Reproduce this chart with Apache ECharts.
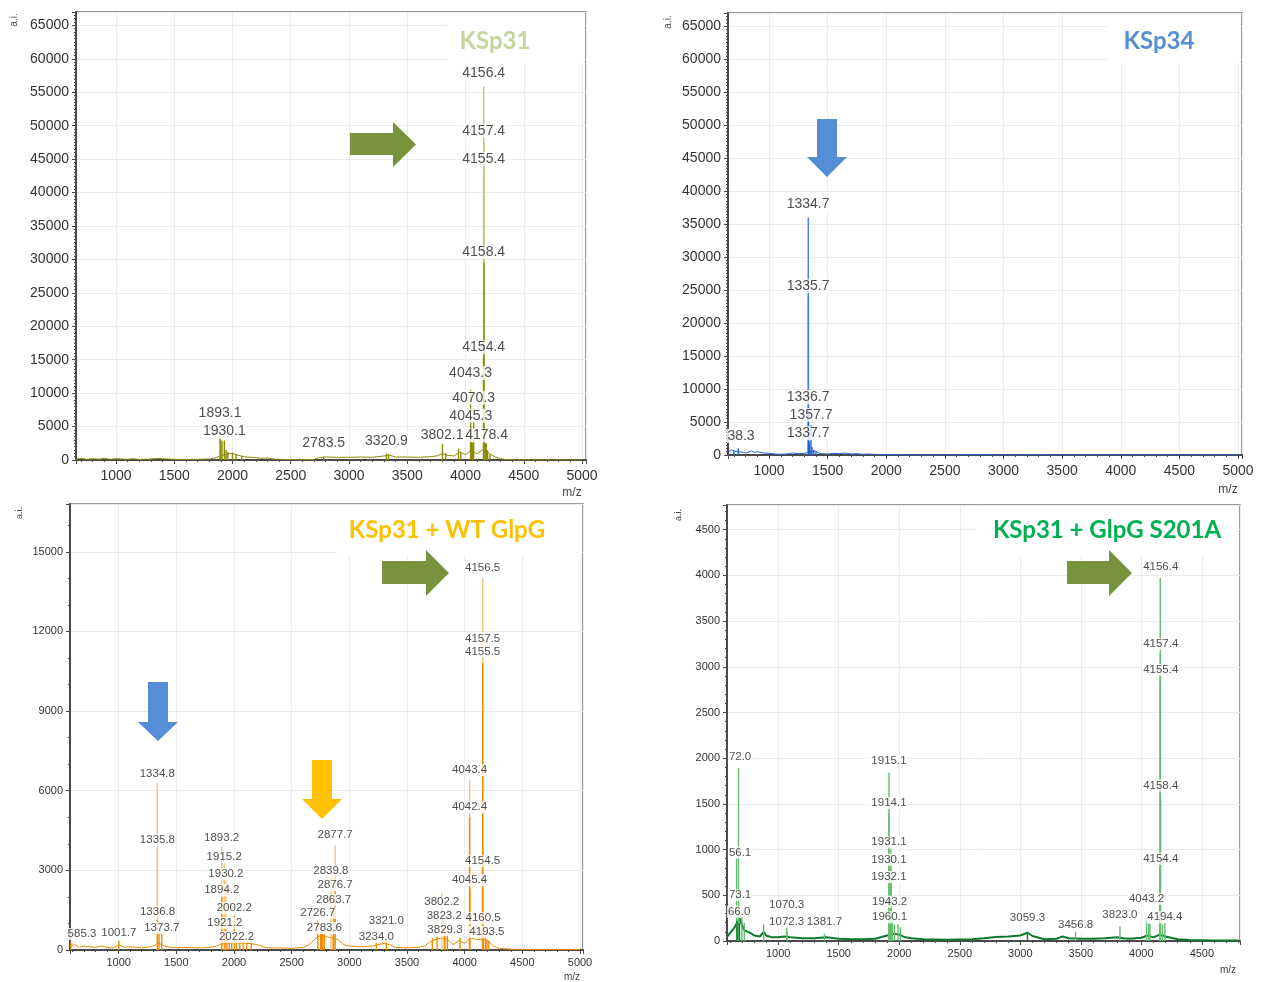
<!DOCTYPE html>
<html>
<head>
<meta charset="utf-8">
<title>MALDI-TOF spectra</title>
<script src="https://cdn.jsdelivr.net/npm/echarts@6/dist/echarts.min.js"></script>
<style>
  html, body { margin: 0; padding: 0; background: #fff; }
  #chart { width: 1267px; height: 982px; }
</style>
</head>
<body>
<div id="chart"></div>
<script>
// ---------- panel 1 : KSp31 ----------
const p1ThinMz  = [4156.4, 4157.4, 4155.4];
const p1ThinInt = [55900, 47500, 43300];
const p1PeakMz  = [1893.1, 1900, 1910, 1930.1, 1945, 1960, 2000, 2030, 2080, 2783.5, 3320.9, 3340, 3802.1, 3830, 3940, 3960, 4043.3, 4045.3, 4050, 4060, 4070.3, 4154.4, 4158.4, 4170, 4178.4, 4190, 4210];
const p1PeakInt = [3200, 3000, 2800, 2900, 1500, 1200, 1100, 900, 600, 500, 1000, 900, 2400, 1000, 1700, 1200, 10500, 5000, 2700, 2600, 7700, 15300, 29500, 2500, 2500, 1500, 800];
const p1BaseMz  = [660, 700, 750, 800, 850, 900, 950, 1000, 1050, 1100, 1150, 1200, 1300, 1350, 1400, 1450, 1500, 1600, 1700, 1800, 1850, 1890, 1950, 2000, 2050, 2100, 2150, 2200, 2250, 2300, 2350, 2400, 2500, 2600, 2700, 2750, 2800, 2900, 3000, 3100, 3200, 3300, 3350, 3400, 3500, 3600, 3700, 3750, 3800, 3850, 3900, 3950, 4000, 4050, 4100, 4150, 4200, 4250, 4300, 4350, 4500, 4700, 5000];
const p1BaseInt = [150, 250, 100, 200, 120, 250, 100, 200, 150, 100, 200, 80, 150, 250, 200, 150, 100, 80, 100, 150, 300, 600, 900, 1000, 700, 500, 400, 350, 250, 300, 150, 100, 50, 50, 80, 400, 450, 400, 400, 450, 400, 600, 700, 450, 450, 400, 500, 600, 900, 700, 600, 1200, 800, 1500, 900, 1600, 1000, 500, 200, 50, 30, 20, 20];
const p1LabelText = ['4156.4', '4157.4', '4155.4', '4158.4', '4154.4', '4043.3', '4070.3', '4045.3', '3802.1', '4178.4', '3320.9', '2783.5', '1893.1', '1930.1'];
const p1LabelMz   = [4156, 4156, 4156, 4156, 4156, 4043, 4070, 4045, 3799, 4181, 3321, 2783, 1893, 1930];
const p1LabelAt   = [57850, 49200, 45000, 31100, 16900, 13000, 9300, 6600, 3700, 3700, 2800, 2500, 7000, 4300];

// ---------- panel 2 : KSp34 ----------
const p2ThinMz  = [1334.7, 1335.7];
const p2ThinInt = [36000, 24000];
const p2PeakMz  = [700, 738.3, 1336.7, 1337.7, 1340, 1345, 1357.7, 1365, 1380, 1400];
const p2PeakInt = [700, 1000, 7300, 2000, 2200, 1500, 4500, 1200, 800, 500];
const p2BaseMz  = [650, 680, 700, 740, 780, 800, 850, 880, 900, 950, 1000, 1050, 1100, 1150, 1200, 1250, 1300, 1330, 1400, 1420, 1450, 1500, 1550, 1600, 1650, 1700, 1750, 1800, 1850, 1900, 2000, 2200, 2500, 2800, 3000, 3300, 3500, 4000, 4500, 5000];
const p2BaseInt = [500, 800, 600, 500, 400, 300, 600, 400, 500, 300, 250, 150, 100, 150, 300, 200, 250, 400, 600, 300, 200, 150, 250, 200, 300, 150, 200, 100, 150, 80, 50, 40, 30, 60, 30, 50, 30, 20, 20, 20];
const p2LabelText = ['1334.7', '1335.7', '1336.7', '1357.7', '1337.7', '38.3'];
const p2LabelMz   = [1333, 1333, 1333, 1358, 1333, 761];
const p2LabelAt   = [38000, 25600, 8800, 6100, 3300, 2900];

// ---------- panel 3 : KSp31 + WT GlpG ----------
const p3ThinMz  = [4156.5, 4157.5, 4043.4, 1334.8, 1335.8, 2877.7, 2839.8, 1893.2, 1915.2, 1930.2, 3802.2];
const p3ThinInt = [14000, 11300, 6400, 6290, 3800, 3950, 2700, 3900, 3300, 2600, 2150];
const p3PeakMz  = [4155.5, 4042.4, 4154.5, 4045.4, 4160.5, 4193.5, 4180, 4210, 3823.2, 3829.3, 3720, 3760, 3850, 3960, 3321.0, 3234.0, 2876.7, 2863.7, 2726.7, 2783.6, 2750, 2760, 2770, 2860, 1894.2, 2002.2, 1921.2, 2022.2, 1940, 1960, 1980, 2050, 2080, 2110, 2150, 1336.8, 1373.7, 1350, 1001.7, 585.3];
const p3PeakInt = [10800, 5000, 3000, 2300, 800, 400, 500, 350, 800, 600, 450, 500, 550, 450, 400, 300, 2200, 1600, 1100, 600, 600, 650, 600, 550, 2000, 1300, 800, 350, 300, 320, 300, 300, 320, 300, 250, 1100, 600, 650, 350, 300];
const p3BaseMz  = [580, 620, 660, 700, 750, 800, 850, 900, 950, 1000, 1050, 1100, 1150, 1200, 1250, 1300, 1350, 1400, 1450, 1500, 1550, 1600, 1700, 1800, 1850, 1900, 1950, 2000, 2050, 2100, 2150, 2200, 2250, 2300, 2400, 2500, 2600, 2650, 2700, 2750, 2800, 2850, 2900, 2950, 3000, 3100, 3200, 3300, 3350, 3400, 3500, 3600, 3650, 3700, 3750, 3800, 3850, 3900, 3950, 4000, 4050, 4100, 4150, 4200, 4250, 4300, 4400, 4600, 5000];
const p3BaseInt = [150, 200, 100, 150, 120, 100, 150, 100, 80, 200, 100, 120, 100, 80, 100, 150, 250, 150, 100, 80, 100, 90, 80, 100, 150, 250, 250, 280, 260, 250, 240, 200, 120, 80, 80, 60, 100, 200, 400, 550, 500, 450, 400, 200, 150, 120, 150, 250, 200, 100, 80, 100, 150, 300, 400, 450, 400, 200, 350, 250, 450, 400, 400, 350, 150, 60, 30, 20, 20];
const p3LabelText = ['4156.5', '4157.5', '4155.5', '4043.4', '4042.4', '4154.5', '4045.4', '4160.5', '4193.5', '3802.2', '3823.2', '3829.3', '3321.0', '3234.0', '2877.7', '2839.8', '2876.7', '2863.7', '2726.7', '2783.6', '1893.2', '1915.2', '1930.2', '1894.2', '2002.2', '1921.2', '2022.2', '1334.8', '1335.8', '1336.8', '1373.7', '1001.7', '585.3'];
const p3LabelMz   = [4156, 4156, 4156, 4043, 4043, 4156, 4043, 4160, 4193, 3802, 3823, 3829, 3321, 3234, 2877, 2840, 2877, 2864, 2727, 2784, 1893, 1915, 1930, 1894, 2002, 1921, 2022, 1335, 1336, 1337, 1374, 1002, 682];
const p3LabelAt   = [14380, 11740, 11250, 6770, 5380, 3350, 2630, 1200, 680, 1800, 1300, 750, 1090, 490, 4330, 2970, 2450, 1880, 1390, 830, 4220, 3500, 2860, 2260, 1580, 1020, 490, 6620, 4140, 1430, 830, 640, 600];

// ---------- panel 4 : KSp31 + GlpG S201A ----------
const p4ThinMz  = [4156.4, 4157.4, 4155.4, 4158.4, 4154.4, 1915.1, 1914.1, 1931.1, 1930.1, 1932.1, 672.0, 656.1, 673.1, 666.0, 1943.2, 1960.1, 4043.2, 4060, 4070, 4194.4, 4175, 3823.0, 1070.3, 1072.3, 1381.7, 880, 3456.8, 1920, 1990, 2010, 700, 720];
const p4ThinInt = [3970, 3150, 2850, 1570, 800, 1840, 1400, 1000, 800, 620, 1890, 900, 420, 230, 300, 180, 250, 190, 190, 200, 180, 160, 150, 100, 80, 180, 100, 180, 180, 150, 300, 200];
const p4PeakMz  = [660, 680, 3059.3];
const p4PeakInt = [220, 200, 90];
const p4BaseMz  = [580, 640, 660, 680, 700, 720, 750, 780, 800, 850, 880, 900, 950, 1000, 1050, 1100, 1200, 1300, 1400, 1500, 1600, 1700, 1800, 1900, 1950, 2000, 2050, 2100, 2200, 2400, 2600, 2700, 2800, 2900, 3000, 3060, 3100, 3200, 3300, 3350, 3400, 3500, 3600, 3700, 3800, 3850, 3900, 4000, 4050, 4100, 4150, 4200, 4300, 4400, 4600, 4800];
const p4BaseInt = [50, 150, 200, 250, 180, 120, 100, 80, 60, 50, 100, 60, 40, 40, 50, 40, 30, 30, 40, 25, 20, 20, 25, 60, 80, 70, 40, 30, 20, 15, 20, 30, 45, 50, 60, 90, 55, 20, 25, 50, 30, 25, 25, 30, 40, 30, 25, 35, 60, 40, 70, 50, 20, 10, 5, 5];
const p4LabelText = ['4156.4', '4157.4', '4155.4', '4158.4', '4154.4', '4043.2', '4194.4', '3823.0', '3456.8', '3059.3', '1915.1', '1914.1', '1931.1', '1930.1', '1932.1', '1943.2', '1960.1', '1070.3', '1072.3', '1381.7', '72.0', '56.1', '73.1', '66.0'];
const p4LabelMz   = [4160, 4160, 4160, 4160, 4160, 4043, 4194, 3823, 3457, 3059, 1915, 1915, 1915, 1915, 1915, 1920, 1920, 1070, 1070, 1382, 685, 685, 685, 677];
const p4LabelAt   = [4092, 3250, 2965, 1700, 900, 460, 260, 285, 175, 250, 1970, 1510, 1080, 890, 700, 430, 260, 400, 210, 210, 2010, 970, 500, 320];

const FONT = 'Liberation Sans, Arial, sans-serif';

function zip(a, b) { return a.map((v, i) => [v, b[i]]); }

const panels = [
  { thinMz: p1ThinMz, thinInt: p1ThinInt, peakMz: p1PeakMz, peakInt: p1PeakInt, baseMz: p1BaseMz, baseInt: p1BaseInt,
    labelText: p1LabelText, labelMz: p1LabelMz, labelAt: p1LabelAt,
    light: '#c2c47e', dark: '#8c8c08', baseWidth: 1, fs: 14, lfs: 14,
    grid: { left: 76, top: 12, width: 510, height: 448 }, xMin: 657, xMax: 5034, xSplit: 9, yMax: 67000, yInt: 5000, yMinor: 10 },
  { thinMz: p2ThinMz, thinInt: p2ThinInt, peakMz: p2PeakMz, peakInt: p2PeakInt, baseMz: p2BaseMz, baseInt: p2BaseInt,
    labelText: p2LabelText, labelMz: p2LabelMz, labelAt: p2LabelAt,
    light: '#3d82ea', dark: '#1f62d6', baseWidth: 1, fs: 14, lfs: 14,
    grid: { left: 728, top: 13, width: 514, height: 442 }, xMin: 650, xMax: 5034, xSplit: 9, yMax: 67000, yInt: 5000, yMinor: 10 },
  { thinMz: p3ThinMz, thinInt: p3ThinInt, peakMz: p3PeakMz, peakInt: p3PeakInt, baseMz: p3BaseMz, baseInt: p3BaseInt,
    labelText: p3LabelText, labelMz: p3LabelMz, labelAt: p3LabelAt,
    light: '#f9c27a', dark: '#f08c00', baseWidth: 1, fs: 11, lfs: 11.5,
    grid: { left: 70, top: 504, width: 513, height: 446 }, xMin: 578, xMax: 5026, xSplit: 9, yMax: 16800, yInt: 3000, yMinor: 3 },
  { thinMz: p4ThinMz, thinInt: p4ThinInt, peakMz: p4PeakMz, peakInt: p4PeakInt, baseMz: p4BaseMz, baseInt: p4BaseInt,
    labelText: p4LabelText, labelMz: p4LabelMz, labelAt: p4LabelAt,
    light: '#62bd6e', dark: '#0b7a2c', baseWidth: 2, fs: 11, lfs: 11.5,
    grid: { left: 727, top: 505, width: 513, height: 436 }, xMin: 577, xMax: 4815, xSplit: 8, yMax: 4770, yInt: 500, yMinor: 5 }
];

const grids = [], xAxes = [], yAxes = [], series = [];

panels.forEach((p, i) => {
  grids.push(Object.assign({ show: true, borderColor: '#7a7a7a', borderWidth: 1.5, backgroundColor: '#fff' }, p.grid));

  xAxes.push({
    type: 'value', gridIndex: i, min: p.xMin, max: p.xMax, splitNumber: p.xSplit,
    axisLine: { onZero: false, lineStyle: { color: '#4a4a4a', width: 2 } },
    axisTick: { show: true, length: 4, lineStyle: { color: '#4a4a4a' } },
    minorTick: { show: true, splitNumber: 5, length: 2, lineStyle: { color: '#4a4a4a' } },
    splitLine: { show: true, lineStyle: { color: '#ececec' } },
    axisLabel: { showMinLabel: false, showMaxLabel: false, fontSize: p.fs, color: '#333', fontFamily: FONT, margin: i < 2 ? 9 : 7,
      formatter: v => String(v) }
  });

  yAxes.push({
    type: 'value', gridIndex: i, min: 0, max: p.yMax, interval: p.yInt,
    axisLine: { show: true, lineStyle: { color: '#4a4a4a', width: 2 } },
    axisTick: { show: true, length: 4, lineStyle: { color: '#4a4a4a' } },
    minorTick: { show: true, splitNumber: p.yMinor, length: 2, lineStyle: { color: '#4a4a4a' } },
    splitLine: { show: true, lineStyle: { color: '#ececec' } },
    axisLabel: { showMaxLabel: false, fontSize: p.fs, color: '#333', fontFamily: FONT, margin: 7,
      formatter: v => String(v) }
  });

  const sticks = zip(p.thinMz, p.thinInt).map(v => ({ value: v, itemStyle: { color: p.light } }))
    .concat(zip(p.peakMz, p.peakInt).map(v => ({ value: v, itemStyle: { color: p.dark } })));

  series.push({
    type: 'line', xAxisIndex: i, yAxisIndex: i, data: zip(p.baseMz, p.baseInt),
    showSymbol: false, lineStyle: { color: p.dark, width: p.baseWidth }, z: 2, silent: true
  });
  series.push({
    type: 'bar', xAxisIndex: i, yAxisIndex: i, data: sticks, barWidth: 1.4, z: 3, silent: true
  });
  series.push({
    type: 'scatter', xAxisIndex: i, yAxisIndex: i, z: 5, silent: true,
    symbolSize: 1, itemStyle: { color: 'rgba(0,0,0,0)' },
    data: p.labelText.map((t, k) => ({ name: t, value: [p.labelMz[k], p.labelAt[k]] })),
    label: { show: true, position: 'inside', formatter: '{b}', backgroundColor: '#fff', padding: [0, 1],
      fontSize: p.lfs, color: '#222', fontFamily: FONT }
  });
});

function arrowRight(x0, x1, x2, yTop, yBot, hTop, hBot, color) {
  const ym = (hTop + hBot) / 2;
  return { type: 'polygon', shape: { points: [[x0, yTop], [x1, yTop], [x1, hTop], [x2, ym], [x1, hBot], [x1, yBot], [x0, yBot]] }, style: { fill: color }, z: 100 };
}
function arrowDown(xl, xr, y0, y1, hl, hr, y2, color) {
  const xm = (hl + hr) / 2;
  return { type: 'polygon', shape: { points: [[xl, y0], [xr, y0], [xr, y1], [hr, y1], [xm, y2], [hl, y1], [xl, y1]] }, style: { fill: color }, z: 100 };
}
function titleBox(x, y, w, h) {
  return { type: 'rect', shape: { x: x, y: y, width: w, height: h }, style: { fill: '#fff' }, z: 90 };
}
function title(text, x, y, color) {
  return { type: 'text', x: x, y: y, z: 101, style: { text: text, fill: color, font: 'bold 24px Lato, "Open Sans", sans-serif', align: 'center', verticalAlign: 'middle' } };
}
function small(text, x, y, size, rot) {
  return { type: 'text', x: x, y: y, rotation: rot || 0, z: 101, style: { text: text, fill: '#444', font: size + 'px ' + FONT, align: 'center', verticalAlign: 'middle' } };
}

const graphics = [
  titleBox(447, 13, 138, 50), title('KSp31', 495, 41, '#c3d69b'),
  titleBox(1110, 14, 131, 49), title('KSp34', 1159, 41, '#558ed5'),
  titleBox(337, 505, 245, 50), title('KSp31 + WT GlpG', 447, 530, '#ffc000'),
  titleBox(975, 506, 264, 49), title('KSp31 + GlpG S201A', 1107, 530, '#00b050'),
  arrowRight(350, 393, 416, 133, 155, 122, 167, '#77933c'),
  arrowDown(817, 837, 119, 157, 807, 847, 177, '#558ed5'),
  arrowDown(148, 168, 682, 722, 138, 178, 741, '#558ed5'),
  arrowDown(312, 332, 760, 799, 302, 342, 819, '#ffc000'),
  arrowRight(382, 426, 449, 561, 584, 550, 596, '#77933c'),
  arrowRight(1067, 1109, 1132, 561, 584, 550, 596, '#77933c'),
  small('a.i.', 14, 20, 10, Math.PI / 2), small('a.i.', 668, 22, 10, Math.PI / 2),
  small('a.i.', 20, 513, 9, Math.PI / 2), small('a.i.', 679, 515, 9, Math.PI / 2),
  small('m/z', 572, 493, 12), small('m/z', 1228, 490, 12),
  small('m/z', 572, 977, 10), small('m/z', 1228, 970, 10)
];

const chart = echarts.init(document.getElementById('chart'), null, { renderer: 'canvas' });
chart.setOption({
  animation: false,
  backgroundColor: '#fff',
  grid: grids,
  xAxis: xAxes,
  yAxis: yAxes,
  series: series,
  graphic: graphics
});
</script>
</body>
</html>
